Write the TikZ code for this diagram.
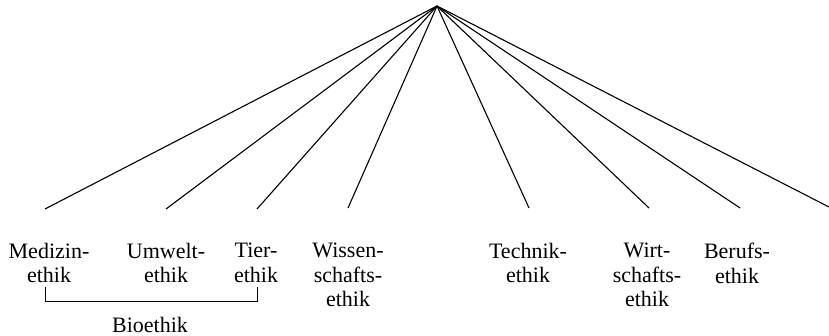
\documentclass[tikz,border=0pt]{standalone}
\usepackage{fontspec}
\setmainfont{Liberation Serif}
\begin{document}
\begin{tikzpicture}[x=1pt,y=-1pt,
  ray/.style={line width=1.1pt},
  lbl/.style={anchor=north,inner sep=0pt,align=center,font=\fontsize{22}{24.5}\selectfont},
  brk/.style={line width=1pt}]
\useasboundingbox (0,0) rectangle (829,336);
\coordinate (top) at (437,6);
% free ends of the rays
\coordinate (e1) at (45,209);
\coordinate (e2) at (166,209);
\coordinate (e3) at (257,209);
\coordinate (e4) at (348,208);
\coordinate (e5) at (529,208);
\coordinate (e6) at (649,208);
\coordinate (e7) at (740,208);
\coordinate (e8) at (829,207);
\foreach \i in {1,...,8} \draw[ray] (top) -- (e\i);
% labels
\node[lbl] (med) at (49,243) {Medizin-\\ethik};
\node[lbl] (umw) at (166,243) {Umwelt-\\ethik};
\node[lbl] (tier) at (256,243) {Tier-\\ethik};
\node[lbl] (wiss) at (348,243) {Wissen-\\schafts-\\ethik};
\node[lbl] (tech) at (528,243) {Technik-\\ethik};
\node[lbl] (wirt) at (647,243) {Wirt-\\schafts-\\ethik};
\node[lbl] (beruf) at (737,243) {Berufs-\\ethik};
% bracket
\coordinate (b1) at (45,287);
\coordinate (b2) at (257,287);
\draw[brk] (b1) -- ++(0,15) -| (b2);
\node[inner sep=0pt,anchor=base,text depth=0pt,font=\fontsize{22}{24.5}\selectfont] (bio) at (150,332) {Bioethik};
\end{tikzpicture}
\end{document}
